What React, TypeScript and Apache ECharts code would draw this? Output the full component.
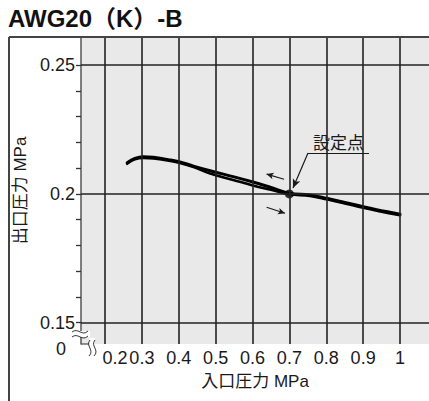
import React, { useEffect, useRef } from "react";
import * as echarts from "echarts";

// ---- data ----
const titleText = "AWG20（K）-B";
const xAxisName = "入口圧力 MPa";
const yAxisName = "出口圧力 MPa";
const setPointLabel = "設定点";

const xGridValues = [0.2, 0.3, 0.4, 0.5, 0.6, 0.7, 0.8, 0.9, 1.0];
const xLabelTexts = ["0.2", "0.3", "0.4", "0.5", "0.6", "0.7", "0.8", "0.9", "1"];
const yGridValues = [0.15, 0.2, 0.25];
const yLabelTexts = ["0.15", "0.2", "0.25"];
const yTickValues = [0.15, 0.16, 0.17, 0.18, 0.19, 0.2, 0.21, 0.22, 0.23, 0.24, 0.25];
const zeroLabel = "0";

// upper branch
const upperX = [0.26, 0.281, 0.304, 0.331, 0.376, 0.403, 0.44, 0.485, 0.55, 0.601, 0.65, 0.7, 0.756, 0.801, 0.85, 0.9, 0.95, 1.0];
const upperY = [0.2121, 0.2138, 0.21445, 0.2142, 0.2132, 0.2124, 0.2108, 0.2090, 0.2066, 0.2046, 0.2025, 0.2003, 0.1996, 0.1983, 0.1967, 0.1950, 0.1935, 0.1921];
// lower branch
const lowerX = [0.26, 0.281, 0.304, 0.331, 0.376, 0.403, 0.44, 0.485, 0.55, 0.601, 0.65, 0.7, 0.756, 0.801, 0.85, 0.9, 0.95, 1.0];
const lowerY = [0.2117, 0.2134, 0.2140, 0.2138, 0.2128, 0.2120, 0.2104, 0.2079, 0.2053, 0.2033, 0.2016, 0.1999, 0.1992, 0.1979, 0.1963, 0.1946, 0.1931, 0.1917];

const setPoint = [0.7, 0.2];
const leaderStart = [0.7505, 0.2159];
const leaderEnd = [0.7098, 0.2023];
const underlineEnd = [0.9159, 0.2159];
const arrowLeftFrom = [0.6854, 0.2057];
const arrowLeftTo = [0.6382, 0.2077];
const arrowRightFrom = [0.6382, 0.1948];
const arrowRightTo = [0.6881, 0.1925];

const xMin = 0.1349;
const xMax = 1.0786;
const yMin = 0.14174;
const yMax = 0.2609;

const FONT = "'Liberation Sans', Arial, 'Noto Sans CJK JP', sans-serif";
const INK = "#1a1a1a";

function zip(xs: number[], ys: number[]) {
  return xs.map((x, i) => [x, ys[i]]);
}

function labelFor(values: number[], texts: string[], v: number) {
  const i = values.findIndex((x) => Math.abs(x - v) < 1e-6);
  return i >= 0 ? texts[i] : "";
}

export default function App() {
  const ref = useRef<HTMLDivElement>(null);
  useEffect(() => {
    const chart = echarts.init(ref.current!, null, { renderer: "svg" });
    const option: any = {
      animation: false,
      backgroundColor: "#ffffff",
      textStyle: { fontFamily: FONT },
      grid: {
        left: 81,
        top: 37,
        right: 0,
        bottom: 57,
        show: true,
        backgroundColor: "#e8e9e8",
        borderWidth: 0,
      },
      xAxis: {
        type: "value",
        min: xMin,
        max: xMax,
        name: xAxisName,
        nameLocation: "middle",
        nameGap: 29,
        nameTextStyle: { fontSize: 17, color: INK, fontFamily: FONT },
        axisLine: { show: false },
        axisTick: { show: false },
        splitLine: { show: false },
        axisLabel: {
          customValues: xGridValues,
          margin: 5,
          fontSize: 18,
          color: INK,
          fontFamily: FONT,
          formatter: (v: number) => {
            const t = labelFor(xGridValues, xLabelTexts, v);
            return Math.abs(v - xGridValues[0]) < 1e-6 ? "{s|" + t + "}" : t;
          },
          rich: {
            s: { fontSize: 18, color: INK, fontFamily: FONT, padding: [0, 0, 0, 20] },
          },
        },
      },
      yAxis: {
        type: "value",
        min: yMin,
        max: yMax,
        name: yAxisName,
        nameLocation: "middle",
        nameGap: 51,
        nameTextStyle: { fontSize: 17, color: INK, fontFamily: FONT },
        axisLine: { show: true, lineStyle: { color: "#555", width: 1.5 } },
        axisTick: {
          show: true,
          customValues: yTickValues,
          length: 5,
          lineStyle: { color: "#333", width: 1.3 },
        },
        splitLine: { show: false },
        axisLabel: {
          customValues: yGridValues,
          margin: 6,
          fontSize: 18,
          color: INK,
          fontFamily: FONT,
          formatter: (v: number) => labelFor(yGridValues, yLabelTexts, v),
        },
      },
      series: [
        {
          type: "line",
          z: 1,
          data: [],
          silent: true,
          markLine: {
            silent: true,
            symbol: "none",
            label: { show: false },
            lineStyle: { color: "#222", width: 1.6, type: "solid" },
            data: [
              ...xGridValues.map((v) => ({ xAxis: v })),
              ...yGridValues.map((v) => ({ yAxis: v })),
            ],
          },
        },
        {
          type: "line",
          z: 3,
          data: zip(upperX, upperY),
          showSymbol: false,
          smooth: 0.4,
          lineStyle: { color: "#000", width: 3, cap: "round" },
        },
        {
          type: "line",
          z: 3,
          data: zip(lowerX, lowerY),
          showSymbol: false,
          smooth: 0.4,
          lineStyle: { color: "#000", width: 2.6, cap: "round" },
        },
        {
          type: "scatter",
          z: 4,
          data: [setPoint],
          symbolSize: 9,
          itemStyle: { color: "#000" },
          markLine: {
            silent: true,
            animation: false,
            lineStyle: { color: INK, width: 1.2, type: "solid" },
            label: { show: false },
            data: [
              [
                { coord: leaderStart, symbol: "none" },
                { coord: leaderEnd, symbol: "arrow", symbolSize: [6, 9] },
              ],
              [
                {
                  coord: leaderStart,
                  symbol: "none",
                  label: {
                    show: true,
                    position: "insideMiddleTop",
                    formatter: setPointLabel,
                    fontSize: 17,
                    color: INK,
                    fontFamily: FONT,
                    distance: 1,
                  },
                },
                { coord: underlineEnd, symbol: "none" },
              ],
              [
                { coord: arrowLeftFrom, symbol: "none" },
                { coord: arrowLeftTo, symbol: "arrow", symbolSize: [5, 7] },
              ],
              [
                { coord: arrowRightFrom, symbol: "none" },
                { coord: arrowRightTo, symbol: "arrow", symbolSize: [5, 7] },
              ],
            ],
          },
        },
      ],
      graphic: [
        {
          type: "text",
          left: 8,
          top: 6,
          style: {
            text: titleText,
            fontSize: 24,
            fontWeight: "bold",
            fontFamily: FONT,
            fill: "#111",
          },
        },
        {
          type: "line",
          shape: { x1: 9, y1: 37, x2: 9, y2: 401 },
          style: { stroke: "#444", lineWidth: 2 },
        },
        {
          type: "line",
          shape: { x1: 9, y1: 37, x2: 429, y2: 37 },
          style: { stroke: "#444", lineWidth: 2 },
          z: 10,
        },
        {
          type: "text",
          x: 61,
          y: 349,
          style: {
            text: zeroLabel,
            fontSize: 18,
            fontFamily: FONT,
            fill: INK,
            align: "center",
            verticalAlign: "middle",
          },
        },
        // y-axis break
        {
          type: "polygon",
          shape: { points: [[72, 331], [90, 331], [90, 337], [72, 337]] },
          style: { fill: "#ffffff" },
          z: 20,
        },
        {
          type: "bezierCurve",
          shape: { x1: 72, y1: 332, cpx1: 78, cpy1: 327, cpx2: 82, cpy2: 337, x2: 88, y2: 331 },
          style: { stroke: "#333", lineWidth: 1, fill: "none" },
          z: 21,
        },
        {
          type: "bezierCurve",
          shape: { x1: 72, y1: 337, cpx1: 78, cpy1: 332, cpx2: 82, cpy2: 342, x2: 88, y2: 336 },
          style: { stroke: "#333", lineWidth: 1, fill: "none" },
          z: 21,
        },
        // x-axis break
        {
          type: "polygon",
          shape: { points: [[89, 338], [95, 338], [95, 346], [89, 346]] },
          style: { fill: "#ffffff" },
          z: 20,
        },
        {
          type: "line",
          shape: { x1: 81, y1: 344, x2: 89, y2: 344 },
          style: { stroke: "#555", lineWidth: 1.3 },
          z: 21,
        },
        {
          type: "bezierCurve",
          shape: { x1: 90, y1: 340, cpx1: 85, cpy1: 346, cpx2: 95, cpy2: 350, x2: 89, y2: 356 },
          style: { stroke: "#333", lineWidth: 1, fill: "none" },
          z: 21,
        },
        {
          type: "bezierCurve",
          shape: { x1: 95, y1: 340, cpx1: 90, cpy1: 346, cpx2: 100, cpy2: 350, x2: 94, y2: 356 },
          style: { stroke: "#333", lineWidth: 1, fill: "none" },
          z: 21,
        },
      ],
    };
    chart.setOption(option);
    return () => chart.dispose();
  }, []);
  return (
    <div
      ref={ref}
      style={{ position: "fixed", left: 0, top: 0, width: 429, height: 401, background: "#fff" }}
    />
  );
}
